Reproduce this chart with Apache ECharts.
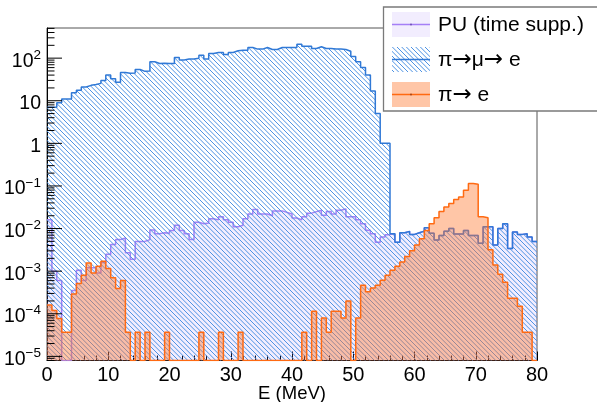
<!DOCTYPE html>
<html><head><meta charset="utf-8">
<script src="https://cdn.jsdelivr.net/npm/echarts@6/dist/echarts.min.js"></script>
<style>html,body{margin:0;padding:0;background:#fff}#c{width:597px;height:402px}</style>
</head><body><div id="c"></div>
<script>
// ---- axis ranges & tick labels ----
const xMin = 0, xMax = 80;
const xTickLabels = ['0','10','20','30','40','50','60','70','80'];
const yMin = 8e-6, yMax = 510;
const yMajorExps = [-5, -4, -3, -2, -1, 0, 1, 2];
const yTickLabels = ['{b|10}{s|\u22125}','{b|10}{s|\u22124}','{b|10}{s|\u22123}','{b|10}{s|\u22122}','{b|10}{s|\u22121}','{b|1}','{b|10}','{b|10}{s|2}'];
const xTitle = 'E (MeV)';
const seriesNames = ['PU (time supp.)', '\u03c0\u2192\u03bc\u2192 e', '\u03c0\u2192 e'];
const legendRich = ['{t|PU (time supp.)}', '{t|\u03c0}{r|\u2192}{t|\u03bc}{r|\u2192}{t| e}', '{t|\u03c0}{r|\u2192}{t| e}'];

// ---- histogram contents (100 bins of 0.8 MeV, 0..80 MeV) ----
const pileUp = [
 1.6e-2, 1.0e-3, 6e-4, 0, 0, 3.5e-4, 1.05e-3, 6e-4, 1.2e-3, 1.2e-3,
 9e-4, 1.6e-3, 2.5e-3, 4.2e-3, 5.5e-3, 6e-3, 2.7e-3, 1.9e-3, 5e-3, 5e-3,
 5.5e-3, 9.2e-3, 7.6e-3, 8e-3, 7.8e-3, 9e-3, 1.2e-2, 9e-3, 7.6e-3, 5.5e-3,
 1.4e-2, 1.3e-2, 1.35e-2, 1.7e-2, 1.6e-2, 1.9e-2, 1.6e-2, 1.4e-2, 1.1e-2, 1.2e-2,
 1.7e-2, 2.2e-2, 2.8e-2, 2.2e-2, 2.2e-2, 2.0e-2, 2.6e-2, 2.6e-2, 2.4e-2, 2.2e-2,
 1.77e-2, 1.6e-2, 1.9e-2, 2.3e-2, 2.5e-2, 2.7e-2, 2.05e-2, 2.5e-2, 2.2e-2, 2.7e-2,
 2.9e-2, 1.9e-2, 1.9e-2, 1.6e-2, 1.3e-2, 9.1e-3, 7.6e-3, 4.8e-3, 6.3e-3, 7.2e-3,
 7.6e-3, 4.8e-3, 8e-3, 8.6e-3, 7.3e-3, 8e-3, 8.7e-3, 1.05e-2, 7.8e-3, 5.4e-3,
 6.9e-3, 8.6e-3, 1e-2, 7.5e-3, 7.5e-3, 9e-3, 6.9e-3, 6.9e-3, 4.5e-3, 1.1e-2,
 1.1e-2, 4.1e-3, 1e-2, 1.3e-2, 3.4e-3, 8.3e-3, 7.3e-3, 7.6e-3, 6.3e-3, 5e-3
];
const piMuE = [
 7, 7, 9, 11, 11, 15.5, 17.7, 21, 23, 24,
 25.6, 30, 40, 33, 27, 46, 44, 45, 54, 49,
 50, 82, 75, 76, 75, 75, 104, 90, 95, 95,
 100, 117, 95, 129, 136, 136, 122, 136, 149, 154,
 154, 178, 163, 163, 178, 160, 160, 178, 178, 178,
 178, 213, 191, 191, 168, 185, 168, 168, 163, 163,
 160, 145, 110, 82, 60, 40, 17, 5, 1.0, 1.0,
 7.6e-3, 4.8e-3, 8e-3, 8.6e-3, 7.3e-3, 8e-3, 8.7e-3, 1.05e-2, 7.8e-3, 5.4e-3,
 6.9e-3, 8.6e-3, 1e-2, 7.5e-3, 7.5e-3, 9e-3, 6.9e-3, 6.9e-3, 4.5e-3, 1.1e-2,
 1.1e-2, 4.1e-3, 1e-2, 1.3e-2, 3.4e-3, 8.3e-3, 7.3e-3, 7.6e-3, 6.3e-3, 5e-3
];
const piE = [
 1.6e-4, 1.2e-4, 7.7e-5, 3.7e-5, 3.7e-5, 2.9e-4, 5.1e-4, 8e-4, 1.55e-3, 9e-4,
 1.3e-3, 1.7e-3, 1.15e-3, 7e-4, 3.9e-4, 6e-4, 3.7e-5, 0, 3.7e-5, 0,
 3.7e-5, 0, 0, 0, 3.7e-5, 0, 0, 0, 0, 0,
 0, 3.7e-5, 0, 0, 0, 3.7e-5, 0, 0, 0, 3.7e-5,
 0, 0, 0, 0, 0, 0, 0, 0, 0, 0,
 0, 0, 3.7e-5, 0, 1.15e-4, 0, 8e-5, 3.7e-5, 1.15e-4, 1.15e-4,
 8e-5, 2e-4, 0, 8e-5, 4.7e-4, 3.3e-4, 4e-4, 4.7e-4, 6.1e-4, 8e-4,
 1.05e-3, 1.3e-3, 1.65e-3, 2.2e-3, 3e-3, 4.1e-3, 5.8e-3, 9e-3, 1.3e-2, 1.8e-2,
 2.5e-2, 3.2e-2, 3.9e-2, 4.8e-2, 5.5e-2, 7.9e-2, 0.114, 0.11, 1.9e-2, 1.8e-2,
 3.2e-3, 1.4e-3, 8.5e-4, 5.5e-4, 2.3e-4, 2.3e-4, 1.5e-4, 3.7e-5, 3.7e-5, 0
];

// ---- helpers ----
function histData(vals) {
  const w = (xMax - xMin) / vals.length;
  const d = vals.map((v, i) => [xMin + i * w, v > 0 ? v : yMin]);
  const last = vals[vals.length - 1];
  d.push([xMax, last > 0 ? last : yMin]);
  return d;
}
function hatchCanvas(color) {
  const T = 14, n = 3;
  const c = document.createElement('canvas');
  c.width = T; c.height = T;
  const g = c.getContext('2d');
  g.strokeStyle = color; g.lineWidth = 1.0;
  for (let k = -2 * n; k <= 2 * n; k++) {
    const off = k * T / n;
    g.beginPath(); g.moveTo(-T, -T + off); g.lineTo(2 * T, 2 * T + off); g.stroke();
  }
  return c;
}
const yTickVals = [];
for (let e = -6; e <= 2; e++) for (let m = 1; m <= 9; m++) {
  const v = m * Math.pow(10, e);
  if (v >= yMin && v <= yMax) yTickVals.push([xMin, v, m === 1 ? 1 : 0]);
}

const FONT = '"Liberation Sans", Arial, Helvetica, sans-serif';
const hatch = hatchCanvas('#4d92e3');
const colPU = '#a57ff6', colMu = '#3079d6', colE = '#ff6a12';
const fillPU = 'rgba(165,125,245,0.14)', fillE = 'rgba(255,120,45,0.42)';
const legendTextRich = {
  t: {fontSize: 21, fontFamily: FONT, color: '#000'},
  r: {fontSize: 23, fontFamily: '"DejaVu Sans", sans-serif', color: '#000'}
};

const chart = echarts.init(document.getElementById('c'), null, {renderer: 'canvas'});
chart.setOption({
  animation: false,
  grid: {left: 47, right: 60, top: 28, bottom: 41.5, show: true, borderColor: '#555', borderWidth: 1,
         containLabel: false, outerBoundsMode: 'none'},
  xAxis: {
    type: 'value', min: xMin, max: xMax, interval: 10,
    axisLine: {lineStyle: {color: '#000', width: 1}},
    axisTick: {inside: true, length: 9, lineStyle: {color: '#000'}},
    minorTick: {show: true, splitNumber: 5, length: 5, lineStyle: {color: '#000'}},
    splitLine: {show: false},
    axisLabel: {color: '#000', fontSize: 20, fontFamily: FONT, margin: 5,
      formatter: v => xTickLabels[Math.round((v - xMin) / 10)]},
    name: xTitle, nameLocation: 'middle', nameGap: 24, nameMoveOverlap: false,
    nameTextStyle: {color: '#000', fontSize: 18.5, fontFamily: FONT}
  },
  yAxis: {
    type: 'log', logBase: 10, min: yMin, max: yMax, splitNumber: 7,
    axisLine: {show: true, lineStyle: {color: '#000', width: 1}},
    axisTick: {show: false}, minorTick: {show: false}, splitLine: {show: false},
    axisLabel: {
      showMinLabel: false, showMaxLabel: false, margin: 6, color: '#000', fontFamily: FONT,
      formatter: v => {
        const e = Math.round(Math.log10(v));
        if (Math.abs(Math.log10(v) - e) > 1e-6) return '';
        const i = yMajorExps.indexOf(e);
        return i < 0 ? '' : yTickLabels[i];
      },
      rich: {
        b: {fontSize: 19.5, fontFamily: FONT, color: '#000', verticalAlign: 'bottom', padding: [6, 0, 0, 0]},
        s: {fontSize: 13.5, fontFamily: FONT, color: '#000', verticalAlign: 'bottom', padding: [0, 0, 9, 0]}
      }
    }
  },
  series: [
    {type: 'line', name: seriesNames[0], data: histData(pileUp), step: 'end', symbol: 'none',
     lineStyle: {color: colPU, width: 1.5}, areaStyle: {color: fillPU, origin: 'start', opacity: 1},
     clip: true, silent: true, emphasis: {disabled: true}, z: 2},
    {type: 'line', name: seriesNames[1], data: histData(piMuE), step: 'end', symbol: 'none',
     lineStyle: {color: colMu, width: 1.5}, areaStyle: {color: {image: hatch, repeat: 'repeat'}, origin: 'start', opacity: 1},
     clip: true, silent: true, emphasis: {disabled: true}, z: 3},
    {type: 'line', name: seriesNames[2], data: histData(piE), step: 'end', symbol: 'none',
     lineStyle: {color: colE, width: 1.5}, areaStyle: {color: fillE, origin: 'start', opacity: 1},
     clip: true, silent: true, emphasis: {disabled: true}, z: 4},
    {type: 'custom', data: yTickVals, encode: {x: 0, y: 1}, silent: true, z: 10,
     renderItem: (p, api) => {
       const pt = api.coord([api.value(0), api.value(1)]);
       const len = api.value(2) ? 15 : 7.5;
       return {type: 'line', shape: {x1: pt[0], y1: pt[1], x2: pt[0] + len, y2: pt[1]},
               style: {stroke: '#000', lineWidth: 1}};
     }}
  ],
  graphic: [
    {type: 'rect', z: 100, shape: {x: 383.5, y: 7, width: 260, height: 104}, style: {fill: '#fff', stroke: '#7a7a7a', lineWidth: 1.3}},
    {type: 'rect', z: 101, shape: {x: 392, y: 12, width: 38, height: 25}, style: {fill: fillPU}},
    {type: 'line', z: 102, shape: {x1: 392, y1: 24.5, x2: 430, y2: 24.5}, style: {stroke: colPU, lineWidth: 1.5}},
    {type: 'circle', z: 103, shape: {cx: 411, cy: 24.5, r: 0.9}, style: {fill: '#6b4bb0'}},
    {type: 'rect', z: 101, shape: {x: 392, y: 47, width: 38, height: 25}, style: {fill: {image: hatch, repeat: 'repeat'}}},
    {type: 'line', z: 102, shape: {x1: 392, y1: 59.5, x2: 430, y2: 59.5}, style: {stroke: colMu, lineWidth: 1.5}},
    {type: 'rect', z: 101, shape: {x: 392, y: 82, width: 38, height: 25}, style: {fill: fillE}},
    {type: 'line', z: 102, shape: {x1: 392, y1: 94.5, x2: 430, y2: 94.5}, style: {stroke: colE, lineWidth: 1.5}},
    {type: 'circle', z: 103, shape: {cx: 411, cy: 94.5, r: 0.9}, style: {fill: '#a04010'}},
    {type: 'text', z: 104, style: {text: legendRich[0], rich: legendTextRich, x: 438, y: 25, verticalAlign: 'middle'}},
    {type: 'text', z: 104, style: {text: legendRich[1], rich: legendTextRich, x: 438, y: 60, verticalAlign: 'middle'}},
    {type: 'text', z: 104, style: {text: legendRich[2], rich: legendTextRich, x: 438, y: 95, verticalAlign: 'middle'}}
  ]
});
</script></body></html>
